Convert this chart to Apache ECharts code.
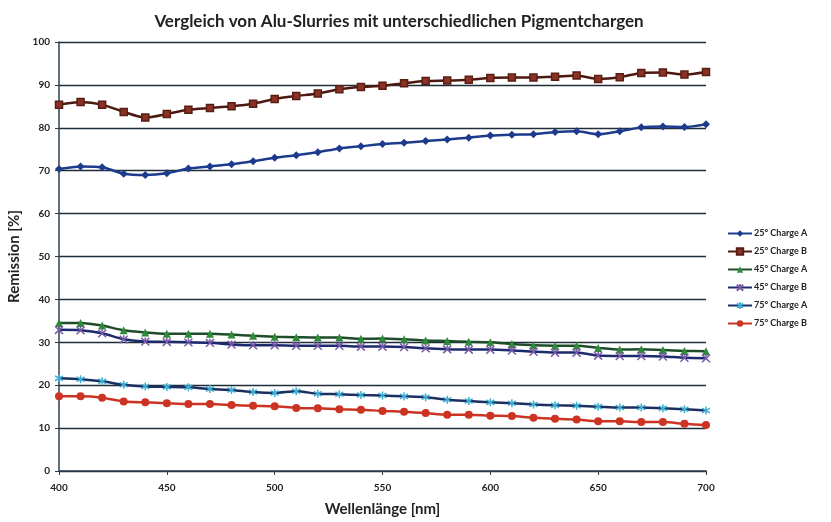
<!DOCTYPE html>
<html>
  <head>
    <meta charset="utf-8">
    <title>Vergleich von Alu-Slurries</title>
    <style>
      html, body { margin: 0; padding: 0; background: #fff; }
      #main { width: 831px; height: 522px; }
    </style>
    <script src="https://cdn.jsdelivr.net/npm/echarts@6/dist/echarts.min.js"></script>
  </head>
  <body>
    <div id="main"></div>
    <script type="text/javascript">

      // wavelengths in nm
      var wavelengths = [400,410,420,430,440,450,460,470,480,490,500,510,520,530,540,550,
                         560,570,580,590,600,610,620,630,640,650,660,670,680,690,700]

      // remission values
      var charge25A = [70.4,71.0,70.8,69.3,69.0,69.4,70.5,71.0,71.5,72.2,73.0,73.6,74.3,75.2,75.7,76.2,
                       76.5,76.9,77.3,77.7,78.2,78.4,78.5,79.0,79.2,78.5,79.2,80.1,80.3,80.2,80.8]
      var charge25B = [85.4,86.0,85.4,83.7,82.4,83.2,84.2,84.6,85.0,85.6,86.7,87.4,88.0,89.0,89.5,89.8,
                       90.4,90.9,91.0,91.2,91.6,91.7,91.7,91.9,92.2,91.4,91.8,92.8,92.9,92.4,93.0]
      var charge45A = [34.5,34.5,33.9,32.8,32.3,32.0,32.0,32.0,31.8,31.5,31.3,31.2,31.1,31.1,30.8,30.9,
                       30.7,30.4,30.3,30.1,30.0,29.6,29.3,29.2,29.2,28.7,28.3,28.4,28.2,28.0,27.9]
      var charge45B = [32.9,32.8,32.1,30.7,30.2,30.1,30.0,29.9,29.5,29.3,29.3,29.2,29.2,29.2,29.0,29.0,
                       28.9,28.6,28.4,28.3,28.3,28.1,27.8,27.6,27.6,26.9,26.8,26.8,26.7,26.4,26.3]
      var charge75A = [21.6,21.4,20.9,20.1,19.7,19.6,19.5,19.1,18.9,18.4,18.2,18.6,18.0,17.9,17.7,17.6,
                       17.4,17.2,16.6,16.3,16.0,15.8,15.5,15.3,15.2,15.0,14.8,14.8,14.6,14.4,14.1]
      var charge75B = [17.4,17.4,17.1,16.2,16.0,15.8,15.6,15.6,15.4,15.2,15.1,14.7,14.6,14.4,14.3,14.0,
                       13.8,13.5,13.1,13.1,12.9,12.8,12.4,12.2,12.0,11.6,11.6,11.4,11.4,11.0,10.7]

      var seriesNames = ['25° Charge A','25° Charge B','45° Charge A','45° Charge B','75° Charge A','75° Charge B']
      var yTicks = [0,10,20,30,40,50,60,70,80,90,100]

      var font = 'Lato, "Open Sans", sans-serif'

      function pairs(values){
        var out = []
        for(var i = 0; i < wavelengths.length; i++){
          out.push([wavelengths[i], values[i]])
        }
        return out
      }

      // star and cross markers (Excel style)
      var starPath = 'path://M10,0L10,20M0,4L20,16M0,16L20,4'
      var crossPath = 'path://M1,1L19,19M1,19L19,1M10,0L10,6'

      function makeSeries(name, values, lineColor, markerColor, symbol, size, markerBorder){
        return {
          name: name,
          type: 'line',
          data: pairs(values),
          symbol: symbol,
          symbolSize: size,
          showAllSymbol: true,
          smooth: 0.25,
          lineStyle: { color: lineColor, width: 2.5 },
          itemStyle: {
            color: markerColor,
            borderColor: markerBorder || markerColor,
            borderWidth: markerBorder ? 1.5 : 0
          },
          emphasis: { disabled: true },
          z: 3
        }
      }

      var myChart = echarts.init(document.getElementById('main'), null, { renderer: 'canvas' })

      var option = {
        animation: false,
        backgroundColor: '#fff',
        title: {
          text: 'Vergleich von Alu-Slurries mit unterschiedlichen Pigmentchargen',
          left: 394,
          textAlign: 'center',
          top: 8,
          textStyle: { fontFamily: font, fontSize: 17, fontWeight: 'bold', color: '#222' }
        },
        legend: {
          orient: 'vertical',
          left: 722,
          top: 224,
          itemGap: 9,
          itemWidth: 24,
          itemHeight: 8,
          data: seriesNames,
          textStyle: { fontFamily: font, fontSize: 9, fontWeight: 'bold', color: '#222', padding: [0, 0, 0, -3] }
        },
        grid: {
          left: 59,
          right: 125,
          top: 42,
          bottom: 51,
          outerBoundsMode: 'none'
        },
        xAxis: {
          type: 'value',
          min: 400,
          max: 700,
          interval: 50,
          name: 'Wellenlänge [nm]',
          nameLocation: 'middle',
          nameGap: 31,
          nameTextStyle: { fontFamily: font, fontSize: 15, fontWeight: 'bold', color: '#222' },
          axisLine: { lineStyle: { color: '#2c3e50', width: 1.5 } },
          axisTick: { show: true, length: 4, lineStyle: { color: '#2c3e50' } },
          axisLabel: { fontFamily: font, fontSize: 10, fontWeight: 'bold', color: '#222', margin: 12 },
          splitLine: { show: false }
        },
        yAxis: {
          type: 'value',
          min: yTicks[0],
          max: yTicks[yTicks.length - 1],
          interval: 10,
          name: 'Remission [%]',
          nameLocation: 'middle',
          nameGap: 31,
          nameTextStyle: { fontFamily: font, fontSize: 15, fontWeight: 'bold', color: '#222' },
          axisLine: { show: true, lineStyle: { color: '#2c3e50', width: 1.5 } },
          axisTick: { show: true, length: 4, lineStyle: { color: '#2c3e50' } },
          axisLabel: { fontFamily: font, fontSize: 10, fontWeight: 'bold', color: '#222', margin: 9 },
          splitLine: { show: true, lineStyle: { color: '#1f2d3a', width: 1.3 } }
        },
        series: [
          makeSeries(seriesNames[0], charge25A, '#1d3b8c', '#1d3b8c', 'diamond', 8),
          makeSeries(seriesNames[1], charge25B, '#4d1810', '#8a3325', 'rect', 7, '#5a1d14'),
          makeSeries(seriesNames[2], charge45A, '#1f4d2a', '#2f8a3a', 'triangle', 8),
          makeSeries(seriesNames[3], charge45B, '#1d2a6e', '#1d2a6e', crossPath, 8, '#7a5aa8'),
          makeSeries(seriesNames[4], charge75A, '#1a2f62', '#3fb0d3', starPath, 8, '#3fb0d3'),
          makeSeries(seriesNames[5], charge75B, '#cc3322', '#cc3322', 'circle', 8)
        ]
      }

      myChart.setOption(option)

    </script>
  </body>
</html>
